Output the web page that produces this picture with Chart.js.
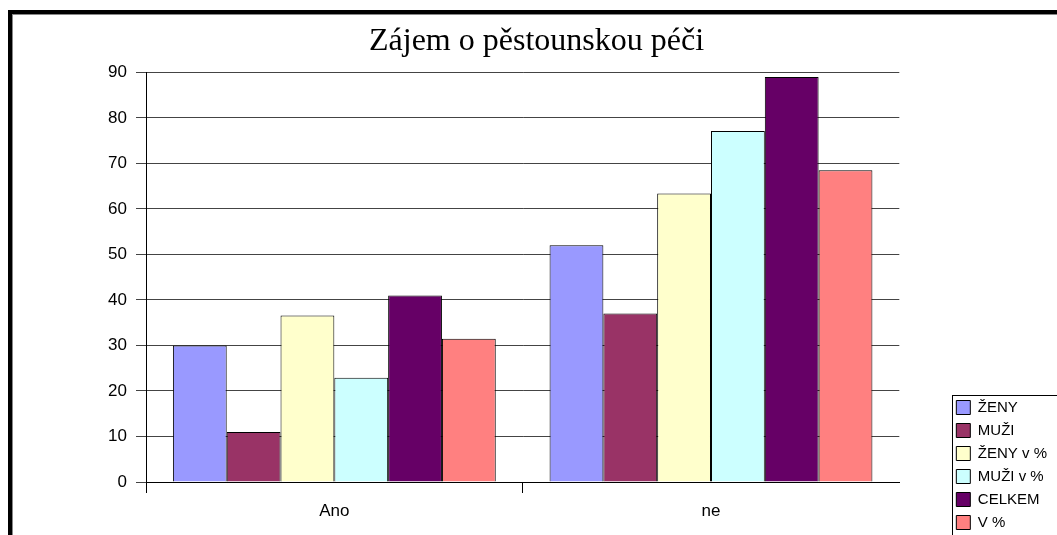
<!DOCTYPE html>
<html>
<head>
<meta charset="utf-8">
<script src="https://cdn.jsdelivr.net/npm/chart.js@4/dist/chart.umd.min.js"></script>
<style>
  html, body { margin: 0; padding: 0; background: #fff; overflow: hidden; }
  #chart { position: absolute; left: 0; top: 0; }
  .frame { position: absolute; left: 8px; top: 10px; width: 1200px; height: 700px;
           border-top: 4px solid #000; border-left: 4px solid #000; pointer-events: none; }
  .frame-in { position: absolute; left: 12px; top: 14px; width: 1200px; height: 700px;
              border-top: 1px solid #888; border-left: 1px solid #888; pointer-events: none; }
</style>
</head>
<body>
<canvas id="chart" width="1080" height="538"></canvas>
<div class="frame"></div>
<div class="frame-in"></div>
<script>
  const categories = ['Ano', 'ne'];
  const zeny = [30, 52];
  const muzi = [11, 37];
  const zenyPct = [36.6, 63.4];
  const muziPct = [22.9, 77.1];
  const celkem = [41, 89];
  const celkemPct = [31.5, 68.5];

  // box around the legend, like the old excel chart
  const legendBox = {
    id: 'legendBox',
    afterDraw(chart) {
      const lg = chart.legend;
      if (!lg || !lg.columnSizes) return;
      const ctx = chart.ctx;
      const top = lg.bottom - lg.columnSizes[0].height - 5;
      ctx.save();
      ctx.strokeStyle = '#000';
      ctx.lineWidth = 1;
      ctx.strokeRect(Math.round(lg.left + 4) + 0.5, Math.round(top) + 0.5, 300, 300);
      ctx.restore();
    }
  };

  const bar = (label, data, color) => ({
    label: label,
    data: data,
    backgroundColor: color,
    borderColor: '#000',
    borderWidth: 1,
    barPercentage: 1,
    categoryPercentage: 6 / 7
  });

  new Chart(document.getElementById('chart').getContext('2d'), {
    type: 'bar',
    data: {
      labels: categories,
      datasets: [
        bar('ŽENY', zeny, '#9999FF'),
        bar('MUŽI', muzi, '#993366'),
        bar('ŽENY v %', zenyPct, '#FFFFCC'),
        bar('MUŽI v %', muziPct, '#CCFFFF'),
        bar('CELKEM', celkem, '#660066'),
        bar('V %', celkemPct, '#FF8080')
      ]
    },
    options: {
      responsive: false,
      animation: false,
      devicePixelRatio: 1,
      layout: { padding: { left: 16, right: 23, top: 0, bottom: 0 } },
      plugins: {
        tooltip: { enabled: false },
        title: {
          display: true,
          text: 'Zájem o pěstounskou péči',
          color: '#000',
          font: { family: 'Liberation Serif', size: 32, weight: 'normal', lineHeight: 1.2 },
          padding: { top: 22, bottom: 12 }
        },
        legend: {
          position: 'right',
          align: 'end',
          labels: {
            color: '#000',
            font: { family: 'Liberation Sans', size: 15 },
            boxWidth: 14,
            boxHeight: 14,
            padding: 8
          }
        }
      },
      scales: {
        x: {
          grid: {
            offset: true,
            drawOnChartArea: false,
            tickLength: 11,
            color: ctx => ctx.tick ? '#000' : 'rgba(0,0,0,0)'
          },
          border: { color: '#000', width: 1 },
          ticks: { color: '#000', font: { family: 'Liberation Sans', size: 17 }, padding: 8 },
          afterFit: s => { s.height = 56; }
        },
        y: {
          min: 0,
          max: 90,
          ticks: { stepSize: 10, color: '#000', font: { family: 'Liberation Sans', size: 17 }, padding: 9 },
          grid: { color: '#444', tickLength: 10 },
          border: { color: '#000', width: 1 },
          afterFit: s => { s.width = 130; }
        },
        gap: {
          position: 'right',
          grid: { display: false },
          ticks: { display: false },
          border: { display: false },
          afterFit: s => { s.width = 49; }
        }
      }
    },
    plugins: [legendBox]
  });
</script>
</body>
</html>
